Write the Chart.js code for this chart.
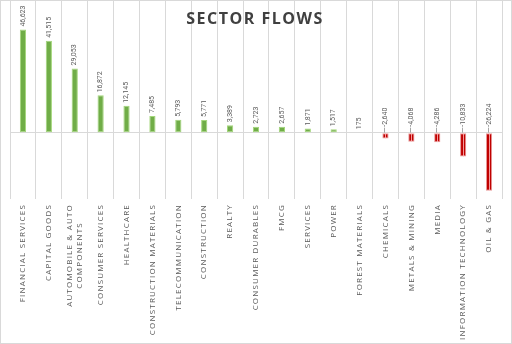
<!DOCTYPE html>
<html>
<head>
<meta charset="utf-8">
<script src="https://cdn.jsdelivr.net/npm/chart.js@4.4.1/dist/chart.umd.min.js"></script>
<style>
  html, body { margin: 0; padding: 0; background: #fff; }
  canvas { display: block; }
</style>
</head>
<body>
<canvas id="sectorFlows" width="512" height="344"></canvas>
<script>
// sector names, multi-line where the label wraps
const sectors = [
    'FINANCIAL SERVICES', 'CAPITAL GOODS', ['AUTOMOBILE & AUTO', 'COMPONENTS'],
    'CONSUMER SERVICES', 'HEALTHCARE', 'CONSTRUCTION MATERIALS', 'TELECOMMUNICATION',
    'CONSTRUCTION', 'REALTY', 'CONSUMER DURABLES', 'FMCG', 'SERVICES', 'POWER',
    'FOREST MATERIALS', 'CHEMICALS', 'METALS & MINING', 'MEDIA',
    'INFORMATION TECHNOLOGY', 'OIL & GAS'
];
const flows = [
    46623, 41515, 29053, 16872, 12145, 7485, 5793, 5771, 3389, 2723,
    2657, 1871, 1517, 175, -2640, -4068, -4286, -10833, -26224
];
const yMin = -30000;
const yMax = 60000;

const GREEN = '#70ad47', GREEN_EDGE = '#a3d67a';
const RED = '#c00000', RED_EDGE = '#e89a9a';
const GRID = '#d9d9d9';
const TEXT = '#595959';

const fmt = v => v.toLocaleString('en-US');

// title, category labels, value labels and the outer frame
const decorations = {
    id: 'decorations',
    afterDatasetsDraw(chart) {
        const ctx = chart.ctx;
        const meta = chart.getDatasetMeta(0);
        const zeroY = chart.scales.y.getPixelForValue(0);

        // light stripe down the middle of the negative bars
        ctx.save();
        meta.data.forEach((bar, i) => {
            if (flows[i] >= 0) return;
            ctx.strokeStyle = 'rgba(255,190,190,0.8)';
            ctx.lineWidth = 1;
            ctx.beginPath();
            ctx.moveTo(Math.round(bar.x) + 0.5, zeroY);
            ctx.lineTo(Math.round(bar.x) + 0.5, bar.y);
            ctx.stroke();
        });
        ctx.restore();

        // value labels, rotated
        ctx.save();
        ctx.font = '7px Roboto';
        ctx.fillStyle = TEXT;
        ctx.textBaseline = 'middle';
        ctx.textAlign = 'left';
        meta.data.forEach((bar, i) => {
            const v = flows[i];
            let y0;
            if (v >= 0) {
                y0 = bar.y - 3;
            } else {
                y0 = zeroY - 6;
                ctx.strokeStyle = '#a6a6a6';
                ctx.lineWidth = 1;
                ctx.beginPath();
                ctx.moveTo(Math.round(bar.x) - 0.5, zeroY);
                ctx.lineTo(Math.round(bar.x) - 0.5, zeroY - 5);
                ctx.stroke();
            }
            ctx.save();
            ctx.translate(bar.x, y0);
            ctx.rotate(-Math.PI / 2);
            ctx.fillText(fmt(v), 0, 0);
            ctx.restore();
        });
        ctx.restore();
    },
    afterDraw(chart) {
        const ctx = chart.ctx;
        const xs = chart.scales.x;

        // category labels under the plot
        ctx.save();
        ctx.font = '8px "Open Sans"';
        ctx.letterSpacing = '1.2px';
        ctx.fillStyle = TEXT;
        ctx.textBaseline = 'middle';
        const top = chart.chartArea.bottom + 5;
        sectors.forEach((lab, i) => {
            const lines = Array.isArray(lab) ? lab : [lab];
            const x = xs.getPixelForValue(i);
            const widths = lines.map(l => ctx.measureText(l).width);
            const maxW = Math.max(...widths);
            const lh = 10;
            lines.forEach((l, k) => {
                const dx = (k - (lines.length - 1) / 2) * lh;
                ctx.save();
                ctx.translate(x + dx, top + maxW / 2);
                ctx.rotate(-Math.PI / 2);
                ctx.textAlign = 'center';
                ctx.fillText(l, 0, 0);
                ctx.restore();
            });
        });
        ctx.restore();

        // title over the plot
        ctx.save();
        ctx.font = 'bold 16px "Open Sans"';
        ctx.letterSpacing = '1.5px';
        ctx.fillStyle = '#404040';
        ctx.textAlign = 'center';
        ctx.textBaseline = 'middle';
        ctx.fillText('SECTOR FLOWS', 255, 19);
        ctx.restore();

        // chart frame
        ctx.save();
        ctx.strokeStyle = GRID;
        ctx.lineWidth = 1;
        ctx.strokeRect(0.5, 0.5, chart.width - 1, chart.height - 1);
        ctx.restore();
    }
};

const ctx = document.getElementById('sectorFlows').getContext('2d');
const chart = new Chart(ctx, {
    type: 'bar',
    data: {
        labels: sectors,
        datasets: [{
            data: flows,
            backgroundColor: flows.map(v => v >= 0 ? GREEN : RED),
            borderColor: flows.map(v => v >= 0 ? GREEN_EDGE : RED_EDGE),
            borderWidth: 1,
            borderSkipped: false,
            categoryPercentage: 1,
            barPercentage: 0.24
        }]
    },
    options: {
        responsive: false,
        animation: false,
        layout: { padding: { left: 10, right: 10, top: 0, bottom: 145 } },
        plugins: {
            legend: { display: false },
            tooltip: { enabled: false }
        },
        scales: {
            x: {
                ticks: { display: false },
                grid: { offset: true, color: GRID, drawTicks: false },
                border: { display: false }
            },
            y: {
                min: yMin,
                max: yMax,
                ticks: { display: false, stepSize: 10000 },
                grid: {
                    drawTicks: false,
                    color: c => c.tick && c.tick.value === 0 ? GRID : 'rgba(0,0,0,0)'
                },
                border: { display: false }
            }
        }
    },
    plugins: [decorations]
});
</script>
</body>
</html>
